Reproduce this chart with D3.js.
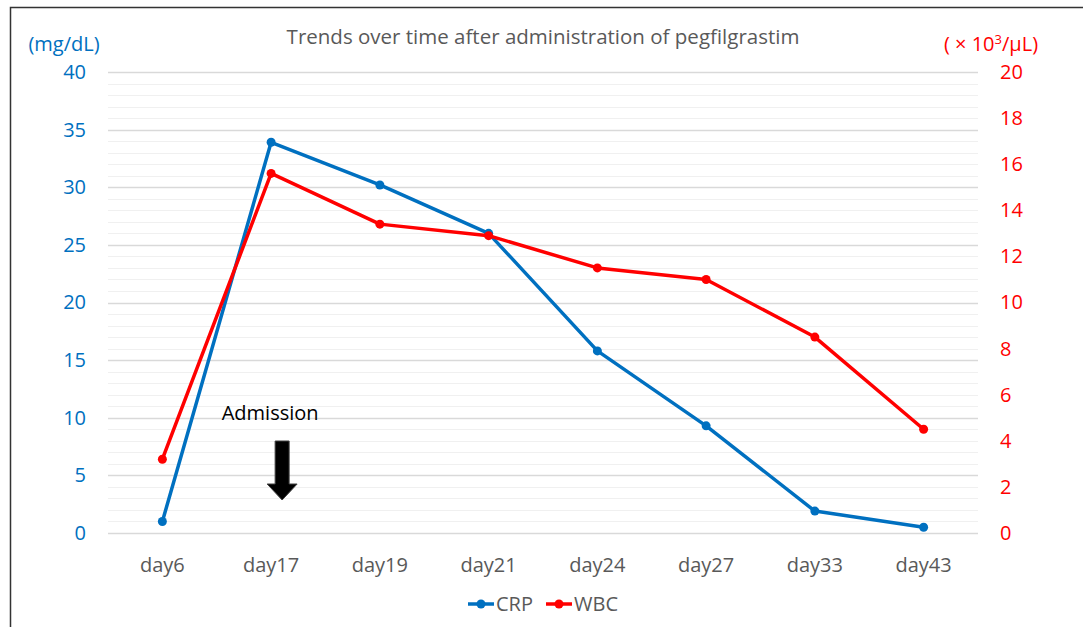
<!DOCTYPE html>
<html>
<head>
<meta charset="utf-8">
<script src="https://cdn.jsdelivr.net/npm/d3@7"></script>
<style>
  body { margin: 0; background: #fff; }
  svg text { font-family: "Open Sans", "Noto Sans", sans-serif; }
</style>
</head>
<body>
<div id="chart"></div>
<script>
// chart data
const days = ["day6", "day17", "day19", "day21", "day24", "day27", "day33", "day43"];
const crpValues = [1.0, 33.9, 30.2, 26.0, 15.8, 9.3, 1.9, 0.5];
const wbcValues = [3.2, 15.6, 13.4, 12.9, 11.5, 11.0, 8.5, 4.5];
const leftTicks = [0, 5, 10, 15, 20, 25, 30, 35, 40];
const rightTicks = [0, 2, 4, 6, 8, 10, 12, 14, 16, 18, 20];
const seriesNames = ["CRP", "WBC"];

var width = 1083, height = 627;
var margin = { left: 108, right: 105, top: 72, bottom: 94 };
var blue = "#0070c0", red = "#ff0000", grey = "#595959";

var svg = d3.select("#chart").append("svg")
    .attr("width", width)
    .attr("height", height);

// outer frame (top + left only visible)
svg.append("path")
    .attr("d", `M10.5,${height} L10.5,7.5 L${width},7.5`)
    .attr("fill", "none")
    .attr("stroke", "#333")
    .attr("stroke-width", 1.5);

const x = d3.scaleBand()
    .domain(days)
    .range([margin.left, width - margin.right]);

const yLeft = d3.scaleLinear()
    .domain([0, 40])
    .range([height - margin.bottom, margin.top]);

const yRight = d3.scaleLinear()
    .domain([0, 20])
    .range([height - margin.bottom, margin.top]);

// gridlines: minor every 1, major every 5
const g = svg.append("g");
d3.range(0, 41).forEach(v => {
    const major = v % 5 === 0;
    g.append("line")
        .attr("x1", margin.left).attr("x2", width - margin.right)
        .attr("y1", Math.round(yLeft(v)) + 0.5).attr("y2", Math.round(yLeft(v)) + 0.5)
        .attr("stroke", major ? "#d9d9d9" : "#f0f0f0")
        .attr("stroke-width", major ? 1.5 : 1.2);
});

// left axis
const leftAxis = svg.append("g")
    .attr("transform", `translate(${margin.left},0)`)
    .call(d3.axisLeft(yLeft).tickValues(leftTicks).tickSize(0).tickPadding(22));
leftAxis.select(".domain").remove();
leftAxis.selectAll("text").attr("fill", blue).style("font-size", "20px");

// right axis
const rightAxis = svg.append("g")
    .attr("transform", `translate(${width - margin.right},0)`)
    .call(d3.axisRight(yRight).tickValues(rightTicks).tickSize(0).tickPadding(22));
rightAxis.select(".domain").remove();
rightAxis.selectAll("text").attr("fill", red).style("font-size", "20px");

// x axis
const xAxis = svg.append("g")
    .attr("transform", `translate(0,${height - margin.bottom})`)
    .call(d3.axisBottom(x).tickSize(0).tickPadding(25));
xAxis.select(".domain").remove();
xAxis.selectAll("text").attr("fill", grey).style("font-size", "20px");

// unit labels and title
svg.append("text")
    .attr("x", 64).attr("y", 51)
    .attr("text-anchor", "middle")
    .attr("fill", blue)
    .style("font-size", "20px")
    .text("(mg/dL)");

svg.append("text")
    .attr("x", 991).attr("y", 51)
    .attr("text-anchor", "middle")
    .attr("fill", red)
    .style("font-size", "20px")
    .html("( \u00d7 10<tspan dy='-7' style='font-size:13px'>3</tspan><tspan dy='7'>/\u03bcL)</tspan>");

svg.append("text")
    .attr("x", 543).attr("y", 44)
    .attr("text-anchor", "middle")
    .attr("fill", grey)
    .style("font-size", "20.5px")
    .text("Trends over time after administration of pegfilgrastim");

// lines
const cx = d => x(d) + x.bandwidth() / 2;

function drawSeries(values, yScale, color) {
    const line = d3.line()
        .x((d, i) => cx(days[i]))
        .y(d => yScale(d));
    svg.append("path")
        .datum(values)
        .attr("fill", "none")
        .attr("stroke", color)
        .attr("stroke-width", 3.5)
        .attr("stroke-linejoin", "round")
        .attr("d", line);
    svg.selectAll(null)
        .data(values)
        .enter().append("circle")
        .attr("cx", (d, i) => cx(days[i]))
        .attr("cy", d => yScale(d))
        .attr("r", 4.5)
        .attr("fill", color);
}
drawSeries(crpValues, yLeft, blue);
drawSeries(wbcValues, yRight, red);

// admission annotation
const ax = cx("day17") + 11;
svg.append("text")
    .attr("x", ax - 12).attr("y", 420)
    .attr("text-anchor", "middle")
    .attr("fill", "#000")
    .style("font-size", "20px")
    .text("Admission");

svg.append("path")
    .attr("d", `M${ax - 7},441 L${ax + 7},441 L${ax + 7},484 L${ax + 15},484 L${ax},500 L${ax - 15},484 L${ax - 7},484 Z`)
    .attr("fill", "#000")
    .attr("stroke", "#404040")
    .attr("stroke-width", 1);

// legend
const legend = svg.append("g").attr("transform", "translate(468,604)");
const legendColors = [blue, red];
let lx = 0;
seriesNames.forEach((name, i) => {
    const item = legend.append("g").attr("transform", `translate(${lx},0)`);
    item.append("line")
        .attr("x1", 0).attr("x2", 26)
        .attr("y1", 0).attr("y2", 0)
        .attr("stroke", legendColors[i])
        .attr("stroke-width", 3.5);
    item.append("circle")
        .attr("cx", 13).attr("cy", 0).attr("r", 4.5)
        .attr("fill", legendColors[i]);
    item.append("text")
        .attr("x", 28).attr("y", 7)
        .attr("fill", grey)
        .style("font-size", "20px")
        .text(name);
    lx += 78;
});
</script>
</body>
</html>
